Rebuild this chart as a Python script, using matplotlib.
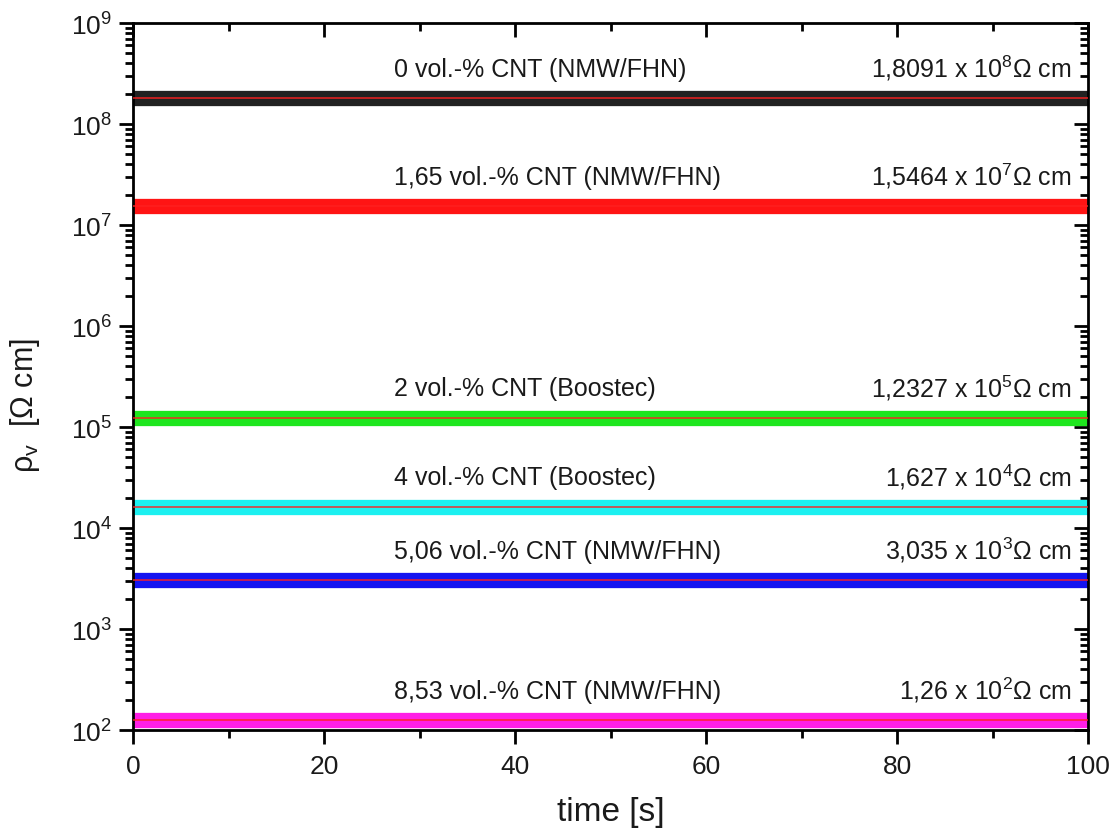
import numpy as np
import matplotlib.pyplot as plt
from matplotlib.ticker import LogLocator, MultipleLocator, NullFormatter

plt.rcParams['font.family'] = ['Liberation Sans', 'DejaVu Sans']
plt.rcParams['mathtext.default'] = 'regular'

# DATA
time_s = [0, 100]
rho_mean = [1.8091e8, 1.5464e7, 1.2327e5, 1.627e4, 3.035e3, 1.26e2]
band_colors = ['#222222', '#ff1414', '#1ee61e', '#1cf0f0', '#1414f0', '#ff1ee6']
left_labels = ['0 vol.-% CNT (NMW/FHN)', '1,65 vol.-% CNT (NMW/FHN)',
               '2 vol.-% CNT (Boostec)', '4 vol.-% CNT (Boostec)',
               '5,06 vol.-% CNT (NMW/FHN)', '8,53 vol.-% CNT (NMW/FHN)']
right_labels = ['1,8091 x 10$^{8}$Ω cm', '1,5464 x 10$^{7}$Ω cm',
                '1,2327 x 10$^{5}$Ω cm', '1,627 x 10$^{4}$Ω cm',
                '3,035 x 10$^{3}$Ω cm', '1,26 x 10$^{2}$Ω cm']

# FIGURE
fig = plt.figure(figsize=(11.14, 8.37), dpi=100)
ax = fig.add_axes([0.1194, 0.1266, 0.8573, 0.8447])

for val, col, lt, rt in zip(rho_mean, band_colors, left_labels, right_labels):
    ax.plot(time_s, [val, val], color=col, lw=11, solid_capstyle='butt', zorder=2)
    ax.plot(time_s, [val, val], color='#ff2020', lw=1.2, alpha=0.85, zorder=3)
    ax.annotate(lt, xy=(27.3, val), xytext=(0, 12.5), textcoords='offset points',
                ha='left', va='bottom', fontsize=18, color='#1a1a1a')
    ax.annotate(rt, xy=(98.3, val), xytext=(0, 11.5), textcoords='offset points',
                ha='right', va='bottom', fontsize=18, color='#1a1a1a')

ax.set_yscale('log')
ax.set_xlim(0, 100)
ax.set_ylim(1e2, 1e9)
ax.xaxis.set_major_locator(MultipleLocator(20))
ax.xaxis.set_minor_locator(MultipleLocator(10))
ax.yaxis.set_major_locator(LogLocator(base=10, numticks=20))
ax.yaxis.set_minor_locator(LogLocator(base=10, subs=np.arange(2, 10), numticks=20))
ax.yaxis.set_minor_formatter(NullFormatter())

for s in ax.spines.values():
    s.set_linewidth(2)

ax.tick_params(axis='both', which='major', labelsize=19, width=2, length=10,
               colors='black', labelcolor='#1a1a1a')
ax.tick_params(axis='both', which='minor', width=2, length=5.5)
ax.tick_params(axis='x', which='both', direction='out', pad=7, top=True)
ax.tick_params(axis='y', which='both', direction='out', pad=5, right=True)
# right and top ticks point inward
for t in ax.yaxis.get_major_ticks() + ax.yaxis.get_minor_ticks():
    t.tick2line.set_marker(0)
for t in ax.xaxis.get_major_ticks() + ax.xaxis.get_minor_ticks():
    t.tick2line.set_marker(3)

ax.set_xlabel('time [s]', fontsize=24, color='#1a1a1a')
ax.xaxis.set_label_coords(0.5, -0.093)
ax.set_ylabel('ρ$_{ v}$  [Ω cm]', fontsize=22, color='#1a1a1a')
ax.yaxis.set_label_coords(-0.095, 0.46)

fig.savefig('out.png', dpi=100)
